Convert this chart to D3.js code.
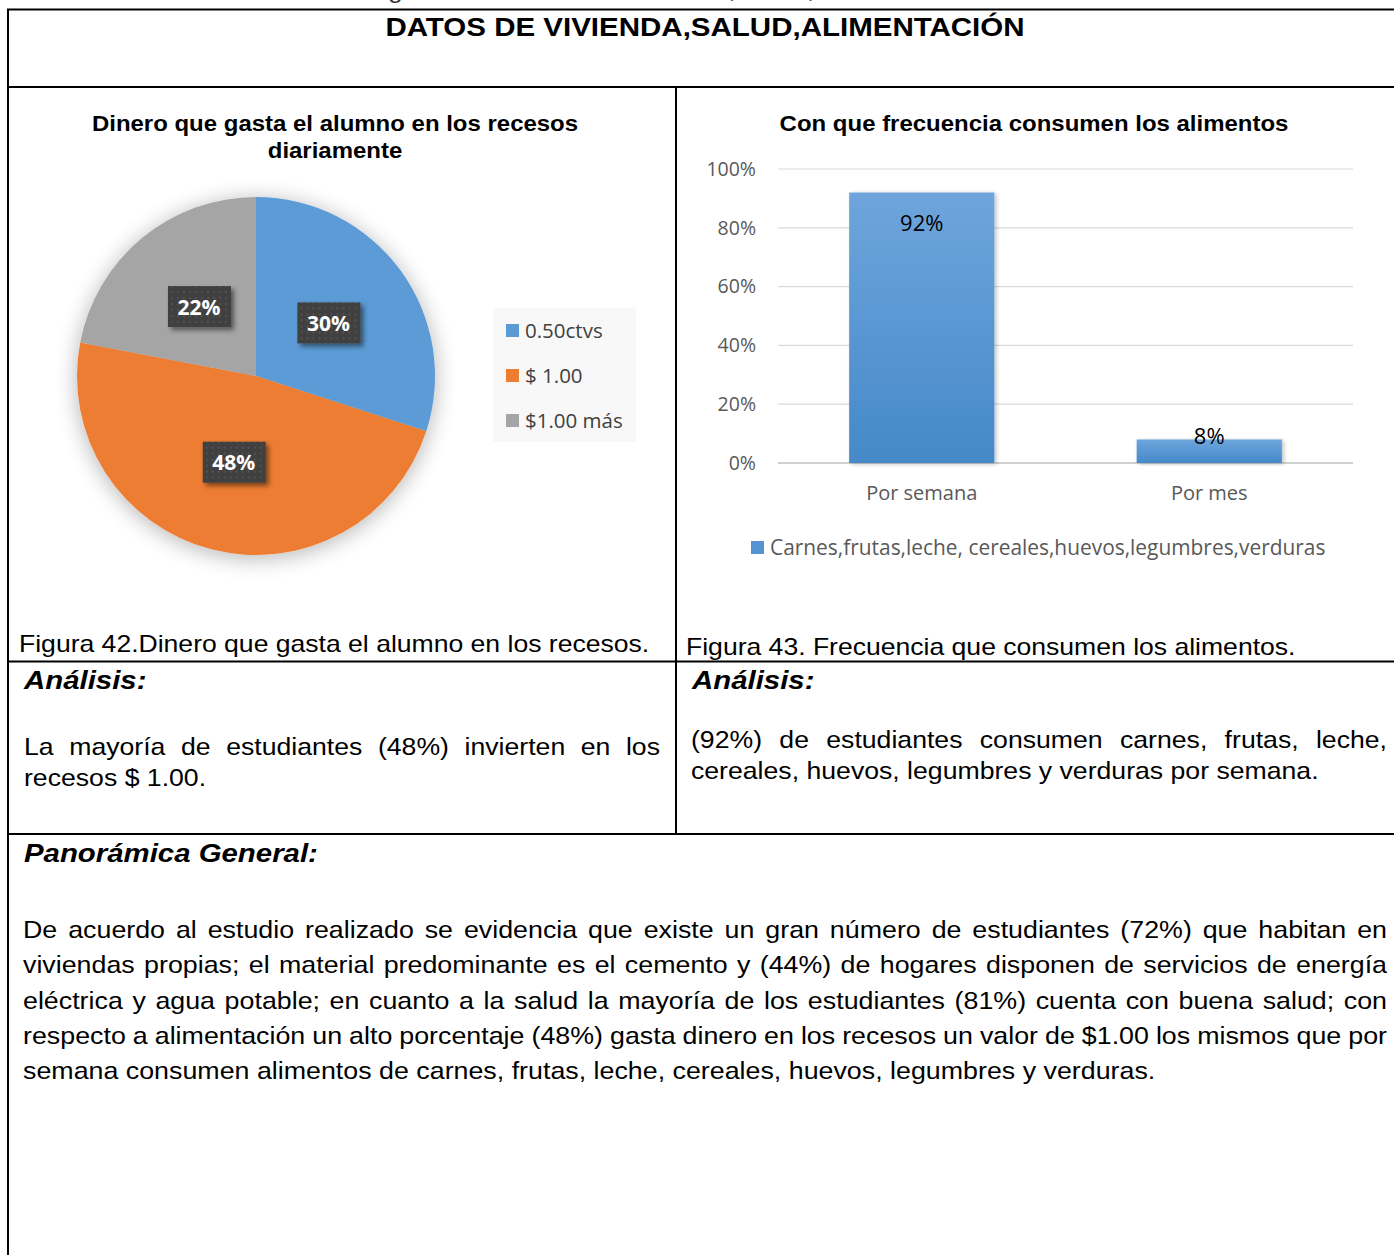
<!DOCTYPE html>
<html>
<head>
<meta charset="utf-8">
<script src="https://cdn.jsdelivr.net/npm/d3@7"></script>
<style>
  body { margin: 0; background: #fff; }
  svg { display: block; }
</style>
</head>
<body>
<div id="page"></div>
<script>
var pieLabels = ["0.50ctvs", "$ 1.00", "$1.00 más"]
var pieValues = [30, 48, 22]
var pieColors = ["#5b9bd5", "#ed7d31", "#a5a5a5"]

var barCategories = ["Por semana", "Por mes"]
var barValues = [92, 8]
var barSerie = "Carnes,frutas,leche, cereales,huevos,legumbres,verduras"
var yTicks = [0, 20, 40, 60, 80, 100]

var parrafoIzq = ["La mayoría de estudiantes (48%) invierten en los", "recesos $ 1.00."]
var parrafoDer = ["(92%) de estudiantes consumen carnes, frutas, leche,", "cereales, huevos, legumbres y verduras por semana."]
var parrafoGeneral = [
    "De acuerdo al estudio realizado se evidencia que existe un gran número de estudiantes (72%) que habitan en",
    "viviendas propias; el material predominante es el cemento y  (44%)  de hogares disponen de servicios de energía",
    "eléctrica y agua potable; en cuanto a la salud la mayoría de los estudiantes (81%) cuenta con buena salud; con",
    "respecto a alimentación un alto porcentaje (48%) gasta dinero en los recesos un valor de $1.00 los mismos que por",
    "semana consumen alimentos de  carnes, frutas, leche, cereales, huevos, legumbres y verduras."
]

var width = 1394,
    height = 1255;
var arial = "'Liberation Sans', Arial, sans-serif";
var calibri = "'Open Sans', Lato, sans-serif";

var svg = d3.select("#page").append("svg")
    .attr("width", width)
    .attr("height", height);

var defs = svg.append("defs");

// sombra suave del pastel
var fPie = defs.append("filter").attr("id", "sombraPie")
    .attr("x", "-25%").attr("y", "-25%").attr("width", "150%").attr("height", "150%");
fPie.append("feGaussianBlur").attr("in", "SourceAlpha").attr("stdDeviation", 11).attr("result", "b");
fPie.append("feOffset").attr("in", "b").attr("dx", 0).attr("dy", 3).attr("result", "o");
fPie.append("feComponentTransfer").attr("in", "o").attr("result", "s")
    .append("feFuncA").attr("type", "linear").attr("slope", 0.3);
var mp = fPie.append("feMerge");
mp.append("feMergeNode").attr("in", "s");
mp.append("feMergeNode").attr("in", "SourceGraphic");

// sombra de etiquetas
var fLab = defs.append("filter").attr("id", "sombraLab")
    .attr("x", "-30%").attr("y", "-30%").attr("width", "160%").attr("height", "160%");
fLab.append("feGaussianBlur").attr("in", "SourceAlpha").attr("stdDeviation", 2.5).attr("result", "b");
fLab.append("feOffset").attr("in", "b").attr("dx", 3).attr("dy", 3).attr("result", "o");
fLab.append("feComponentTransfer").attr("in", "o").attr("result", "s")
    .append("feFuncA").attr("type", "linear").attr("slope", 0.5);
var ml = fLab.append("feMerge");
ml.append("feMergeNode").attr("in", "s");
ml.append("feMergeNode").attr("in", "SourceGraphic");

var fBar = defs.append("filter").attr("id", "sombraBar")
    .attr("x", "-10%").attr("y", "-10%").attr("width", "120%").attr("height", "120%");
fBar.append("feGaussianBlur").attr("in", "SourceAlpha").attr("stdDeviation", 2).attr("result", "b");
fBar.append("feOffset").attr("in", "b").attr("dx", 2).attr("dy", 1).attr("result", "o");
fBar.append("feComponentTransfer").attr("in", "o").attr("result", "s")
    .append("feFuncA").attr("type", "linear").attr("slope", 0.25);
var mb = fBar.append("feMerge");
mb.append("feMergeNode").attr("in", "s");
mb.append("feMergeNode").attr("in", "SourceGraphic");

// patron punteado de las etiquetas
var pat = defs.append("pattern").attr("id", "puntos")
    .attr("width", 6).attr("height", 6).attr("patternUnits", "userSpaceOnUse");
pat.append("rect").attr("width", 6).attr("height", 6).attr("fill", "#404040");
pat.append("circle").attr("cx", 3).attr("cy", 3).attr("r", 0.9).attr("fill", "#595959");

var grad = defs.append("linearGradient").attr("id", "gradBar")
    .attr("x1", 0).attr("y1", 0).attr("x2", 0).attr("y2", 1);
grad.append("stop").attr("offset", "0%").attr("stop-color", "#6ea5dc");
grad.append("stop").attr("offset", "100%").attr("stop-color", "#4589c9");

// texto con estiramiento horizontal (la fuente original es mas ancha)
function texto(x0, y0, t, size, sx, estilo) {
    var el = svg.append("text")
        .attr("transform", "translate(" + x0 + "," + y0 + ") scale(" + sx + ",1)")
        .style("font-family", arial).style("font-size", size + "px")
        .text(t);
    if (estilo == "bi") el.style("font-weight", "bold").style("font-style", "italic");
    if (estilo == "b") el.style("font-weight", "bold");
    return el;
}

function centrado(cx, y0, t, size, sx) {
    return texto(cx, y0, t, size, sx, "b").attr("text-anchor", "middle");
}

// texto cortado arriba (la tabla empieza debajo)
texto(120, -2, "Tabla 42. Recolección general de datos de vivienda, salud, alimentación", 24, 1.11)
    .attr("fill", "#333");

// bordes de la tabla
var lineas = [
    [7, 9.5, width, 9.5],
    [8, 9, 8, height],
    [7, 87, width, 87],
    [676, 87, 676, 834],
    [7, 661.5, width, 661.5],
    [7, 834, width, 834]
];
svg.selectAll("line.borde").data(lineas).enter().append("line")
    .attr("class", "borde")
    .attr("x1", function (d) { return d[0]; })
    .attr("y1", function (d) { return d[1]; })
    .attr("x2", function (d) { return d[2]; })
    .attr("y2", function (d) { return d[3]; })
    .attr("stroke", "#000").attr("stroke-width", 2);

centrado(705, 36, "DATOS DE VIVIENDA,SALUD,ALIMENTACIÓN", 26, 1.135);

// ---------- grafico de pastel ----------
centrado(335, 131, "Dinero que gasta el alumno en los recesos", 22, 1.09);
centrado(335, 158, "diariamente", 22, 1.09);

var radio = 179;
var gPie = svg.append("g").attr("transform", "translate(256,376)");

var pie = d3.pie().sort(null).value(function (d) { return d; });
var arc = d3.arc().innerRadius(0).outerRadius(radio);
var arcos = pie(pieValues);

gPie.append("g").attr("filter", "url(#sombraPie)")
    .selectAll("path")
    .data(arcos)
    .enter().append("path")
    .attr("d", arc)
    .attr("fill", function (d, i) { return pieColors[i]; });

var etq = gPie.selectAll("g.etq")
    .data(arcos)
    .enter().append("g")
    .attr("class", "etq")
    .attr("transform", function (d) {
        var c = arc.centroid(d);
        return "translate(" + c[0] + "," + c[1] + ")";
    });

etq.append("rect")
    .attr("x", -31).attr("y", -21)
    .attr("width", 63).attr("height", 41)
    .attr("fill", "url(#puntos)")
    .attr("filter", "url(#sombraLab)");

etq.append("text")
    .attr("text-anchor", "middle")
    .attr("dy", "0.36em")
    .attr("fill", "#fff")
    .style("font-family", calibri).style("font-size", "21px").style("font-weight", "bold")
    .text(function (d) { return d.value + "%"; });

// leyenda del pastel
var gLey = svg.append("g").attr("transform", "translate(493,308)");
gLey.append("rect").attr("width", 143).attr("height", 134).attr("fill", "#f8f8f8");
var itemLey = gLey.selectAll("g.item")
    .data(pieLabels)
    .enter().append("g")
    .attr("class", "item")
    .attr("transform", function (d, i) { return "translate(13," + (16 + i * 45) + ")"; });
itemLey.append("rect")
    .attr("width", 13).attr("height", 13)
    .attr("fill", function (d, i) { return pieColors[i]; });
itemLey.append("text")
    .attr("x", 19).attr("y", 14)
    .attr("fill", "#404040")
    .style("font-family", calibri).style("font-size", "20.5px")
    .text(function (d) { return d; });

// ---------- grafico de barras ----------
centrado(1034, 131, "Con que frecuencia consumen los alimentos", 22, 1.09);

var x = d3.scaleBand().domain(barCategories).range([778, 1353]);
var y = d3.scaleLinear().domain([0, 100]).range([463, 169]);

var gBar = svg.append("g");

gBar.selectAll("line.grid")
    .data(yTicks)
    .enter().append("line")
    .attr("class", "grid")
    .attr("x1", 778).attr("x2", 1353)
    .attr("y1", function (d) { return y(d); })
    .attr("y2", function (d) { return y(d); })
    .attr("stroke", function (d) { return d === 0 ? "#d0d0d0" : "#d9d9d9"; })
    .attr("stroke-width", function (d) { return d === 0 ? 2 : 1.2; });

var ejeY = d3.axisLeft(y).tickValues(yTicks)
    .tickSize(0).tickPadding(0)
    .tickFormat(function (d) { return d + "%"; });
var gEjeY = gBar.append("g").attr("transform", "translate(756,0)").call(ejeY);
gEjeY.select(".domain").remove();
gEjeY.selectAll("text")
    .attr("fill", "#595959")
    .style("font-family", calibri).style("font-size", "19.5px");

var anchoBarra = x.bandwidth() * 0.505;

gBar.selectAll("rect.barra")
    .data(barValues)
    .enter().append("rect")
    .attr("class", "barra")
    .attr("x", function (d, i) { return x(barCategories[i]) + (x.bandwidth() - anchoBarra) / 2; })
    .attr("y", function (d) { return y(d); })
    .attr("width", anchoBarra)
    .attr("height", function (d) { return y(0) - y(d); })
    .attr("fill", "url(#gradBar)")
    .attr("filter", "url(#sombraBar)");

gBar.selectAll("text.valor")
    .data(barValues)
    .enter().append("text")
    .attr("class", "valor")
    .attr("x", function (d, i) { return x(barCategories[i]) + x.bandwidth() / 2; })
    .attr("y", function (d) { return d > 50 ? y(d) + 38 : y(d) + 5; })
    .attr("text-anchor", "middle")
    .attr("fill", "#000")
    .style("font-family", calibri).style("font-size", "22px")
    .text(function (d) { return d + "%"; });

var ejeX = d3.axisBottom(x).tickSize(0).tickPadding(0);
var gEjeX = gBar.append("g").attr("transform", "translate(0,486)").call(ejeX);
gEjeX.select(".domain").remove();
gEjeX.selectAll("text")
    .attr("fill", "#595959")
    .style("font-family", calibri).style("font-size", "20px");

var gLeyB = svg.append("g").attr("transform", "translate(751,541)");
gLeyB.append("rect").attr("width", 13).attr("height", 13).attr("fill", "#5592d1");
gLeyB.append("text")
    .attr("x", 19).attr("y", 14)
    .attr("fill", "#595959")
    .style("font-family", calibri).style("font-size", "20.9px")
    .text(barSerie);

// ---------- textos de la tabla ----------
function justificado(lineasTxt, x0, x1, y0, alto, size, sx) {
    lineasTxt.forEach(function (linea, i) {
        var yy = y0 + i * alto;
        var palabras = linea.split(/\s+/);
        if (i === lineasTxt.length - 1) {
            texto(x0, yy, linea, size, sx);
            return;
        }
        var nodos = palabras.map(function (p) { return texto(0, yy, p, size, sx); });
        var anchos = nodos.map(function (n) { return n.node().getComputedTextLength() * sx; });
        var hueco = (x1 - x0 - d3.sum(anchos)) / (palabras.length - 1);
        var pos = x0;
        nodos.forEach(function (n, k) {
            n.attr("transform", "translate(" + pos + "," + yy + ") scale(" + sx + ",1)");
            pos += anchos[k] + hueco;
        });
    });
}

texto(19, 652, "Figura 42.Dinero que gasta el alumno en los recesos.", 24, 1.107);
texto(686, 655, "Figura 43. Frecuencia que consumen los alimentos.", 24, 1.107);

texto(24, 689, "Análisis:", 26, 1.13, "bi");
texto(692, 689, "Análisis:", 26, 1.13, "bi");

justificado(parrafoIzq, 24, 660, 755, 31, 24, 1.11);
justificado(parrafoDer, 691, 1387, 748, 31, 24, 1.11);

texto(24, 862, "Panorámica General:", 26, 1.13, "bi");
justificado(parrafoGeneral, 23, 1387, 938, 35.3, 24, 1.117);
</script>
</body>
</html>
